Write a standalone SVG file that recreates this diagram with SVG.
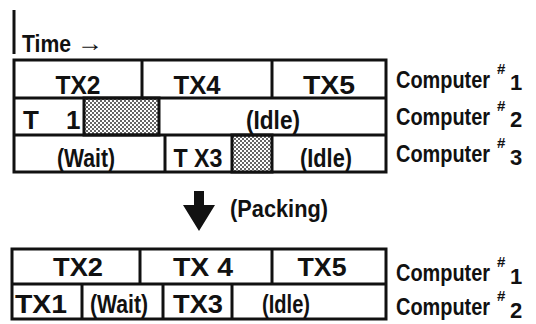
<svg xmlns="http://www.w3.org/2000/svg" width="536" height="324" viewBox="0 0 536 324">
<style>
.t{font-family:"Liberation Sans",Arial,sans-serif;font-weight:bold;font-size:26px;fill:#111}
.c{text-anchor:middle}
.lb{font-size:24px}
.sup{font-size:15px}
.dg{font-size:22px}
.box{fill:#fff;stroke:#111;stroke-width:3}
.ln{stroke:#111;stroke-width:3;fill:none}
.sh{fill:url(#dots);stroke:#111;stroke-width:3}
</style>
<defs>
<pattern id="dots" width="4" height="4" patternUnits="userSpaceOnUse">
<rect width="4" height="4" fill="#fff"/>
<rect x="0" y="0" width="2" height="2" fill="#666"/>
<rect x="2" y="2" width="2" height="2" fill="#666"/>
</pattern>
</defs>
<rect width="536" height="324" fill="#fff"/>

<g id="time-axis">
<line class="ln" x1="14" y1="10" x2="14" y2="54" stroke-width="2.5"/>
<text class="t lb" x="22" y="52" textLength="49" lengthAdjust="spacingAndGlyphs">Time</text>
<text class="t lb" x="77" y="51" textLength="26" lengthAdjust="spacingAndGlyphs">→</text>
</g>

<g id="before">
<rect class="box" x="14" y="60" width="372" height="112"/>
<rect class="sh" x="84" y="98" width="75" height="37"/>
<rect class="sh" x="232" y="135" width="40" height="37"/>
<line class="ln" x1="14" y1="98" x2="386" y2="98"/>
<line class="ln" x1="14" y1="135" x2="386" y2="135"/>
<line class="ln" x1="142" y1="60" x2="142" y2="98"/>
<line class="ln" x1="272" y1="60" x2="272" y2="98"/>
<line class="ln" x1="165" y1="135" x2="165" y2="172"/>
<text class="t c" x="78" y="94" textLength="45" lengthAdjust="spacingAndGlyphs">TX2</text>
<text class="t c" x="197" y="94" textLength="47" lengthAdjust="spacingAndGlyphs">TX4</text>
<text class="t c" x="329" y="94" textLength="52" lengthAdjust="spacingAndGlyphs">TX5</text>
<text class="t" y="129"><tspan x="23">T</tspan><tspan x="66">1</tspan></text>
<text class="t c" x="273" y="129" textLength="54" lengthAdjust="spacingAndGlyphs">(Idle)</text>
<text class="t c" x="86" y="167" textLength="58" lengthAdjust="spacingAndGlyphs">(Wait)</text>
<text class="t c" x="198" y="167" textLength="49" lengthAdjust="spacingAndGlyphs">T X3</text>
<text class="t c" x="326" y="167" textLength="52" lengthAdjust="spacingAndGlyphs">(Idle)</text>
</g>

<g id="labels-before">
<text class="t lb" transform="translate(396,88) scale(0.83,1)">Computer</text>
<text class="t sup" x="497" y="74">#</text>
<text class="t dg" x="510" y="90">1</text>
<text class="t lb" transform="translate(396,125) scale(0.83,1)">Computer</text>
<text class="t sup" x="497" y="111">#</text>
<text class="t dg" x="510" y="127">2</text>
<text class="t lb" transform="translate(396,162) scale(0.83,1)">Computer</text>
<text class="t sup" x="497" y="148">#</text>
<text class="t dg" x="510" y="165">3</text>
</g>

<g id="packing">
<polygon points="194,191 204,191 204,205 215,205 199,231 183,205 194,205" fill="#111"/>
<text class="t lb" x="230" y="217" textLength="98" lengthAdjust="spacingAndGlyphs">(Packing)</text>
</g>

<g id="after">
<rect class="box" x="12" y="249" width="374" height="70"/>
<line class="ln" x1="12" y1="284" x2="386" y2="284"/>
<line class="ln" x1="140" y1="249" x2="140" y2="284"/>
<line class="ln" x1="272" y1="249" x2="272" y2="284"/>
<line class="ln" x1="82" y1="284" x2="82" y2="319"/>
<line class="ln" x1="163" y1="284" x2="163" y2="319"/>
<line class="ln" x1="232" y1="284" x2="232" y2="319"/>
<text class="t c" x="78" y="276" textLength="50" lengthAdjust="spacingAndGlyphs">TX2</text>
<text class="t c" x="203" y="276" textLength="60" lengthAdjust="spacingAndGlyphs">TX 4</text>
<text class="t c" x="322" y="276" textLength="49" lengthAdjust="spacingAndGlyphs">TX5</text>
<text class="t c" x="41" y="313" textLength="52" lengthAdjust="spacingAndGlyphs">TX1</text>
<text class="t c" x="119" y="313" textLength="58" lengthAdjust="spacingAndGlyphs">(Wait)</text>
<text class="t c" x="198" y="313" textLength="50" lengthAdjust="spacingAndGlyphs">TX3</text>
<text class="t c" x="286" y="313" textLength="48" lengthAdjust="spacingAndGlyphs">(Idle)</text>
</g>

<g id="labels-after">
<text class="t lb" transform="translate(396,281) scale(0.83,1)">Computer</text>
<text class="t sup" x="497" y="267">#</text>
<text class="t dg" x="510" y="284">1</text>
<text class="t lb" transform="translate(396,315) scale(0.83,1)">Computer</text>
<text class="t sup" x="497" y="301">#</text>
<text class="t dg" x="510" y="318">2</text>
</g>
</svg>
